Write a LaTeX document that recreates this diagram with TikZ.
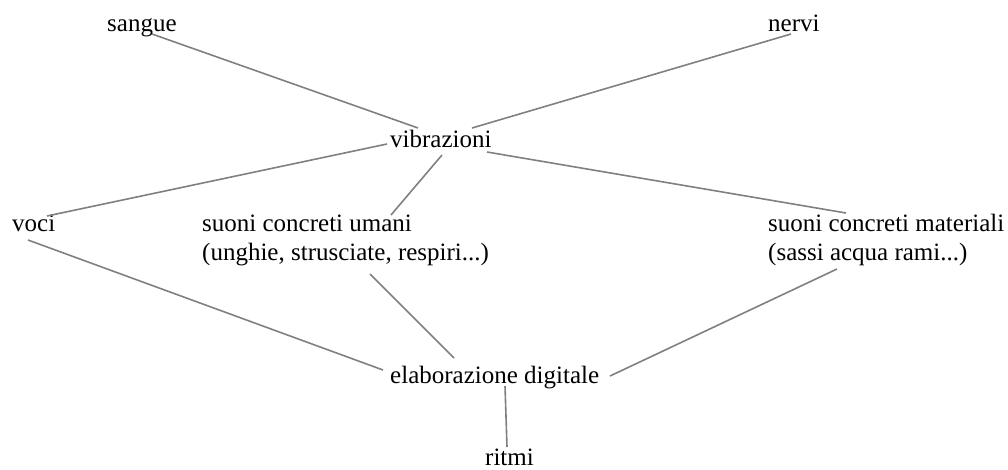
\documentclass[tikz,border=0pt]{standalone}
\usepackage{fontspec}
\setmainfont{LiberationSerif}[Extension=.ttf, UprightFont=*-Regular, BoldFont=*-Bold, ItalicFont=*-Italic]
\usetikzlibrary{positioning}
\definecolor{linkgray}{HTML}{808080}

\begin{document}
\begin{tikzpicture}[
      x=1pt, y=-1pt,
      word/.style={
        inner sep=0pt, anchor=base west, align=left,
        font=\fontsize{25}{29}\selectfont
      },
      link/.style={line width=1.6pt, draw=linkgray}
    ]
      \useasboundingbox (0,0) rectangle (1008,469);

      % base west of each word sits on its (last) baseline
      \node[word] (sangue) at (107,31) {sangue};
      \node[word] (nervi) at (768,31) {nervi};
      \node[word] (vibr) at (390,147) {vibrazioni};
      \node[word] (voci) at (12,231) {voci};
      \node[word] (umani) at (202,260) {suoni concreti umani\\(unghie, strusciate, respiri...)};
      \node[word] (materiali) at (768,260) {suoni concreti materiali\\(sassi acqua rami...)};
      \node[word] (elab) at (390,383) {elaborazione digitale};
      \node[word] (ritmi) at (485,465) {ritmi};

      \draw[link] ([shift={(45,3)}]sangue.base west) -- ([shift={(28,-19)}]vibr.base west);
      \draw[link] ([shift={(23,3)}]nervi.base west) -- ([shift={(82,-19)}]vibr.base west);
      \draw[link] ([shift={(-3,-3)}]vibr.base west) -- ([shift={(35,-15)}]voci.base west);
      \draw[link] ([shift={(52,8)}]vibr.base west) -- ([shift={(189,-45)}]umani.base west);
      \draw[link] ([shift={(97,5)}]vibr.base west) -- ([shift={(78,-47)}]materiali.base west);

      \draw[link] ([shift={(16,9)}]voci.base west) -- ([shift={(-7,-13)}]elab.base west);
      \draw[link] ([shift={(168,14)}]umani.base west) -- ([shift={(64,-25)}]elab.base west);
      \draw[link] ([shift={(69,9)}]materiali.base west) -- ([shift={(220,-7)}]elab.base west);
      \draw[link] ([shift={(115,3)}]elab.base west) -- ([shift={(22,-18)}]ritmi.base west);
    \end{tikzpicture}
\end{document}
